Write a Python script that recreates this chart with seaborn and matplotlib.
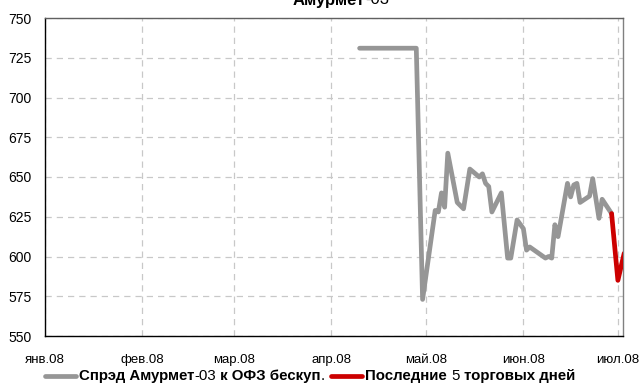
import matplotlib
matplotlib.use('Agg')
import matplotlib.pyplot as plt
import seaborn as sns
import pandas as pd
from matplotlib.offsetbox import TextArea, DrawingArea, HPacker, AnchoredOffsetbox
from matplotlib.lines import Line2D

# ---- data ----
gray_dates = ['2008-04-10', '2008-04-28', '2008-04-30', '2008-05-04', '2008-05-05',
              '2008-05-06', '2008-05-07', '2008-05-08', '2008-05-11', '2008-05-13',
              '2008-05-15', '2008-05-18', '2008-05-19', '2008-05-20', '2008-05-21',
              '2008-05-22', '2008-05-25', '2008-05-27', '2008-05-28', '2008-05-30',
              '2008-06-01', '2008-06-02', '2008-06-03', '2008-06-08', '2008-06-09',
              '2008-06-10', '2008-06-11', '2008-06-12', '2008-06-15', '2008-06-16',
              '2008-06-17', '2008-06-18', '2008-06-19', '2008-06-22', '2008-06-23',
              '2008-06-25', '2008-06-26', '2008-06-29']
gray_values = [731, 731, 573, 629, 628,
               640, 631, 665, 634, 630,
               655, 650, 652, 646, 644,
               628, 640, 599, 599, 623,
               617.5, 604, 606, 599, 600,
               599, 620, 612.5, 646, 637.5,
               645, 646, 634, 638, 649,
               624, 636, 627]
red_dates = ['2008-06-29', '2008-07-01', '2008-07-03']
red_values = [627, 585, 602]

y_ticks = [550, 575, 600, 625, 650, 675, 700, 725, 750]
x_tick_dates = ['2008-01-01', '2008-02-01', '2008-03-01', '2008-04-01',
                '2008-05-01', '2008-06-01', '2008-07-01']
x_tick_labels = ['янв.08', 'фев.08', 'мар.08', 'апр.08', 'май.08', 'июн.08', 'июл.08']

title_parts = [('Амурмет', 'bold'), ('-03', 'normal')]
legend1_parts = [('Спрэд Амурмет', 'bold'), ('-03', 'normal'), (' к ОФЗ бескуп', 'bold'), ('.', 'normal')]
legend2_parts = [('Последние ', 'bold'), ('5', 'normal'), (' торговых дней', 'bold')]

GRAY = '#969696'
RED = '#cc0000'

sns.set_style('white')
FONT = ['Liberation Sans', 'DejaVu Sans']
plt.rcParams['font.family'] = FONT

W, H = 639, 386
fig = plt.figure(figsize=(W / 100, H / 100), dpi=100)
ax = fig.add_axes([44.6 / W, 1 - 336 / H, (623 - 44.6) / W, (336 - 18) / H])

df_g = pd.DataFrame({'date': pd.to_datetime(gray_dates), 'value': gray_values})
df_r = pd.DataFrame({'date': pd.to_datetime(red_dates), 'value': red_values})
sns.lineplot(data=df_g, x='date', y='value', ax=ax, color=GRAY, lw=3.4,
             solid_capstyle='round', zorder=3)
sns.lineplot(data=df_r, x='date', y='value', ax=ax, color=RED, lw=3.4,
             solid_capstyle='round', zorder=4)

ax.set_xlim(pd.Timestamp('2008-01-01'), pd.Timestamp('2008-07-02 15:00'))
ax.set_ylim(550, 750)
ax.set_yticks(y_ticks)
ax.set_xticks(pd.to_datetime(x_tick_dates))
ax.set_xticklabels(x_tick_labels)
ax.set_xlabel('')
ax.set_ylabel('')

ax.grid(True, color='#c8c8c8', linestyle=(0, (5, 4)), linewidth=0.9, zorder=0)
ax.set_axisbelow(True)

for s in ['left', 'bottom']:
    ax.spines[s].set_color('black')
    ax.spines[s].set_linewidth(1.0)
ax.spines['top'].set_color('#606060')
ax.spines['right'].set_color('#808080')
ax.spines['top'].set_linewidth(1.0)
ax.spines['right'].set_linewidth(1.0)

ax.tick_params(axis='both', direction='out', length=4, width=1, color='black',
               labelsize=9.5, labelcolor='black')
ax.tick_params(axis='y', labelsize=10, pad=5.5)
ax.tick_params(axis='x', pad=9)


def packed(parts, size):
    return [TextArea(t, textprops=dict(fontsize=size, fontweight=w, color='black',
                                       family=FONT)) for t, w in parts]


def handle(color):
    da = DrawingArea(25, 8, 0, 0)
    da.add_artist(Line2D([1.5, 23.5], [4, 4], lw=3.4, color=color, solid_capstyle='round'))
    return da

# title
tbox = HPacker(children=packed(title_parts, 12), align='center', pad=0, sep=0)
fig.add_artist(AnchoredOffsetbox(loc='center', child=tbox, pad=0, borderpad=0, frameon=False,
                                 bbox_to_anchor=(341 / W, 1 - 0 / H),
                                 bbox_transform=fig.transFigure))

# legend
LS = 10.8
items = [handle(GRAY)] + [TextArea(' ', textprops=dict(fontsize=4))] + packed(legend1_parts, LS) \
        + [TextArea('  ', textprops=dict(fontsize=5))] + [handle(RED)] \
        + [TextArea(' ', textprops=dict(fontsize=4))] + packed(legend2_parts, LS)
lbox = HPacker(children=items, align='center', pad=0, sep=0)
fig.add_artist(AnchoredOffsetbox(loc='center', child=lbox, pad=0, borderpad=0, frameon=False,
                                 bbox_to_anchor=(309 / W, 1 - 376 / H),
                                 bbox_transform=fig.transFigure))

fig.savefig('out.png', dpi=100)
